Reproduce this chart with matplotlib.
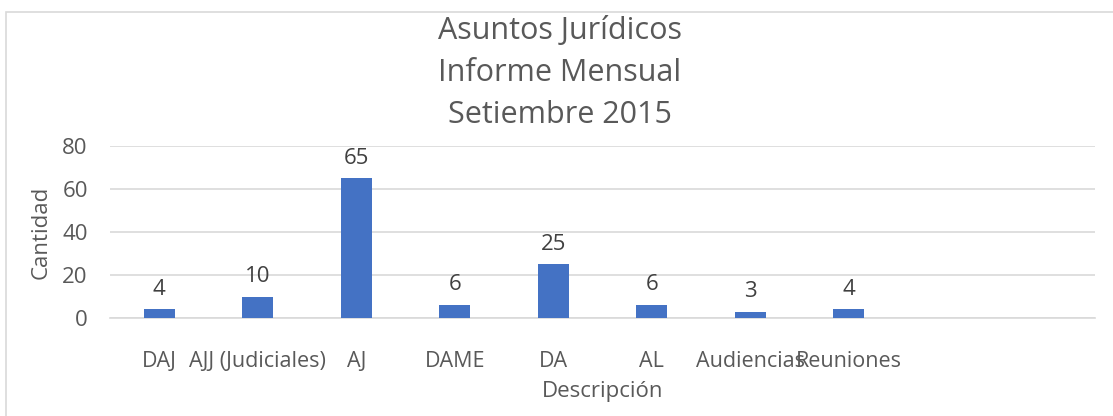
import matplotlib.pyplot as plt
from matplotlib.patches import Rectangle

categorias = ['DAJ', 'AJJ (Judiciales)', 'AJ', 'DAME', 'DA', 'AL',
              'Audiencias', 'Reuniones', '', '']
cantidades = [4, 10, 65, 6, 25, 6, 3, 4, None, None]
yticks = [0, 20, 40, 60, 80]

gris = '#595959'
fs = 15.5
plt.rcParams['font.family'] = ['Open Sans', 'DejaVu Sans']

fig = plt.figure(figsize=(11.13, 4.16), dpi=100)
W, H = 1113, 416
ax = fig.add_axes([110 / W, 1 - 318 / H, 985 / W, 172 / H])

# borde del grafico
fig.patches.append(Rectangle((6 / W, -0.1), 1.2, 1 - 12 / H + 0.1,
                             transform=fig.transFigure, fill=False,
                             edgecolor='#d9d9d9', linewidth=1.2))

x = list(range(len(categorias)))
vals = [v if v is not None else 0 for v in cantidades]
bars = ax.bar(x, vals, width=0.31, color='#4472c4', zorder=3)
labels = [str(v) if v is not None else '' for v in cantidades]
ax.bar_label(bars, labels=labels, padding=7, fontsize=fs + 0.5, color='#404040')

ax.set_xlim(-0.5, len(categorias) - 0.5)
ax.set_ylim(0, 80)
ax.set_yticks(yticks)
ax.set_xticks(x)
ax.set_xticklabels(categorias)
ax.grid(axis='y', color='#d9d9d9', linewidth=1.2, zorder=0)
for s in ['top', 'right', 'left']:
    ax.spines[s].set_visible(False)
ax.spines['bottom'].set_color('#d9d9d9')
ax.spines['bottom'].set_linewidth(1.2)
ax.tick_params(axis='both', length=0, labelsize=fs, labelcolor=gris)
ax.tick_params(axis='y', labelsize=fs + 0.5)
ax.tick_params(axis='x', pad=24)
ax.tick_params(axis='y', pad=16)

ax.set_ylabel('Cantidad', fontsize=fs + 0.5, color=gris, labelpad=8)
ax.set_xlabel('Descripción', fontsize=fs + 0.5, color=gris, labelpad=6)

fig.text(0.503, 1 - 73 / H, 'Asuntos Jurídicos\nInforme Mensual\nSetiembre 2015',
         ha='center', va='center', fontsize=22, color=gris, linespacing=1.52)

fig.savefig('out.png', dpi=100)
